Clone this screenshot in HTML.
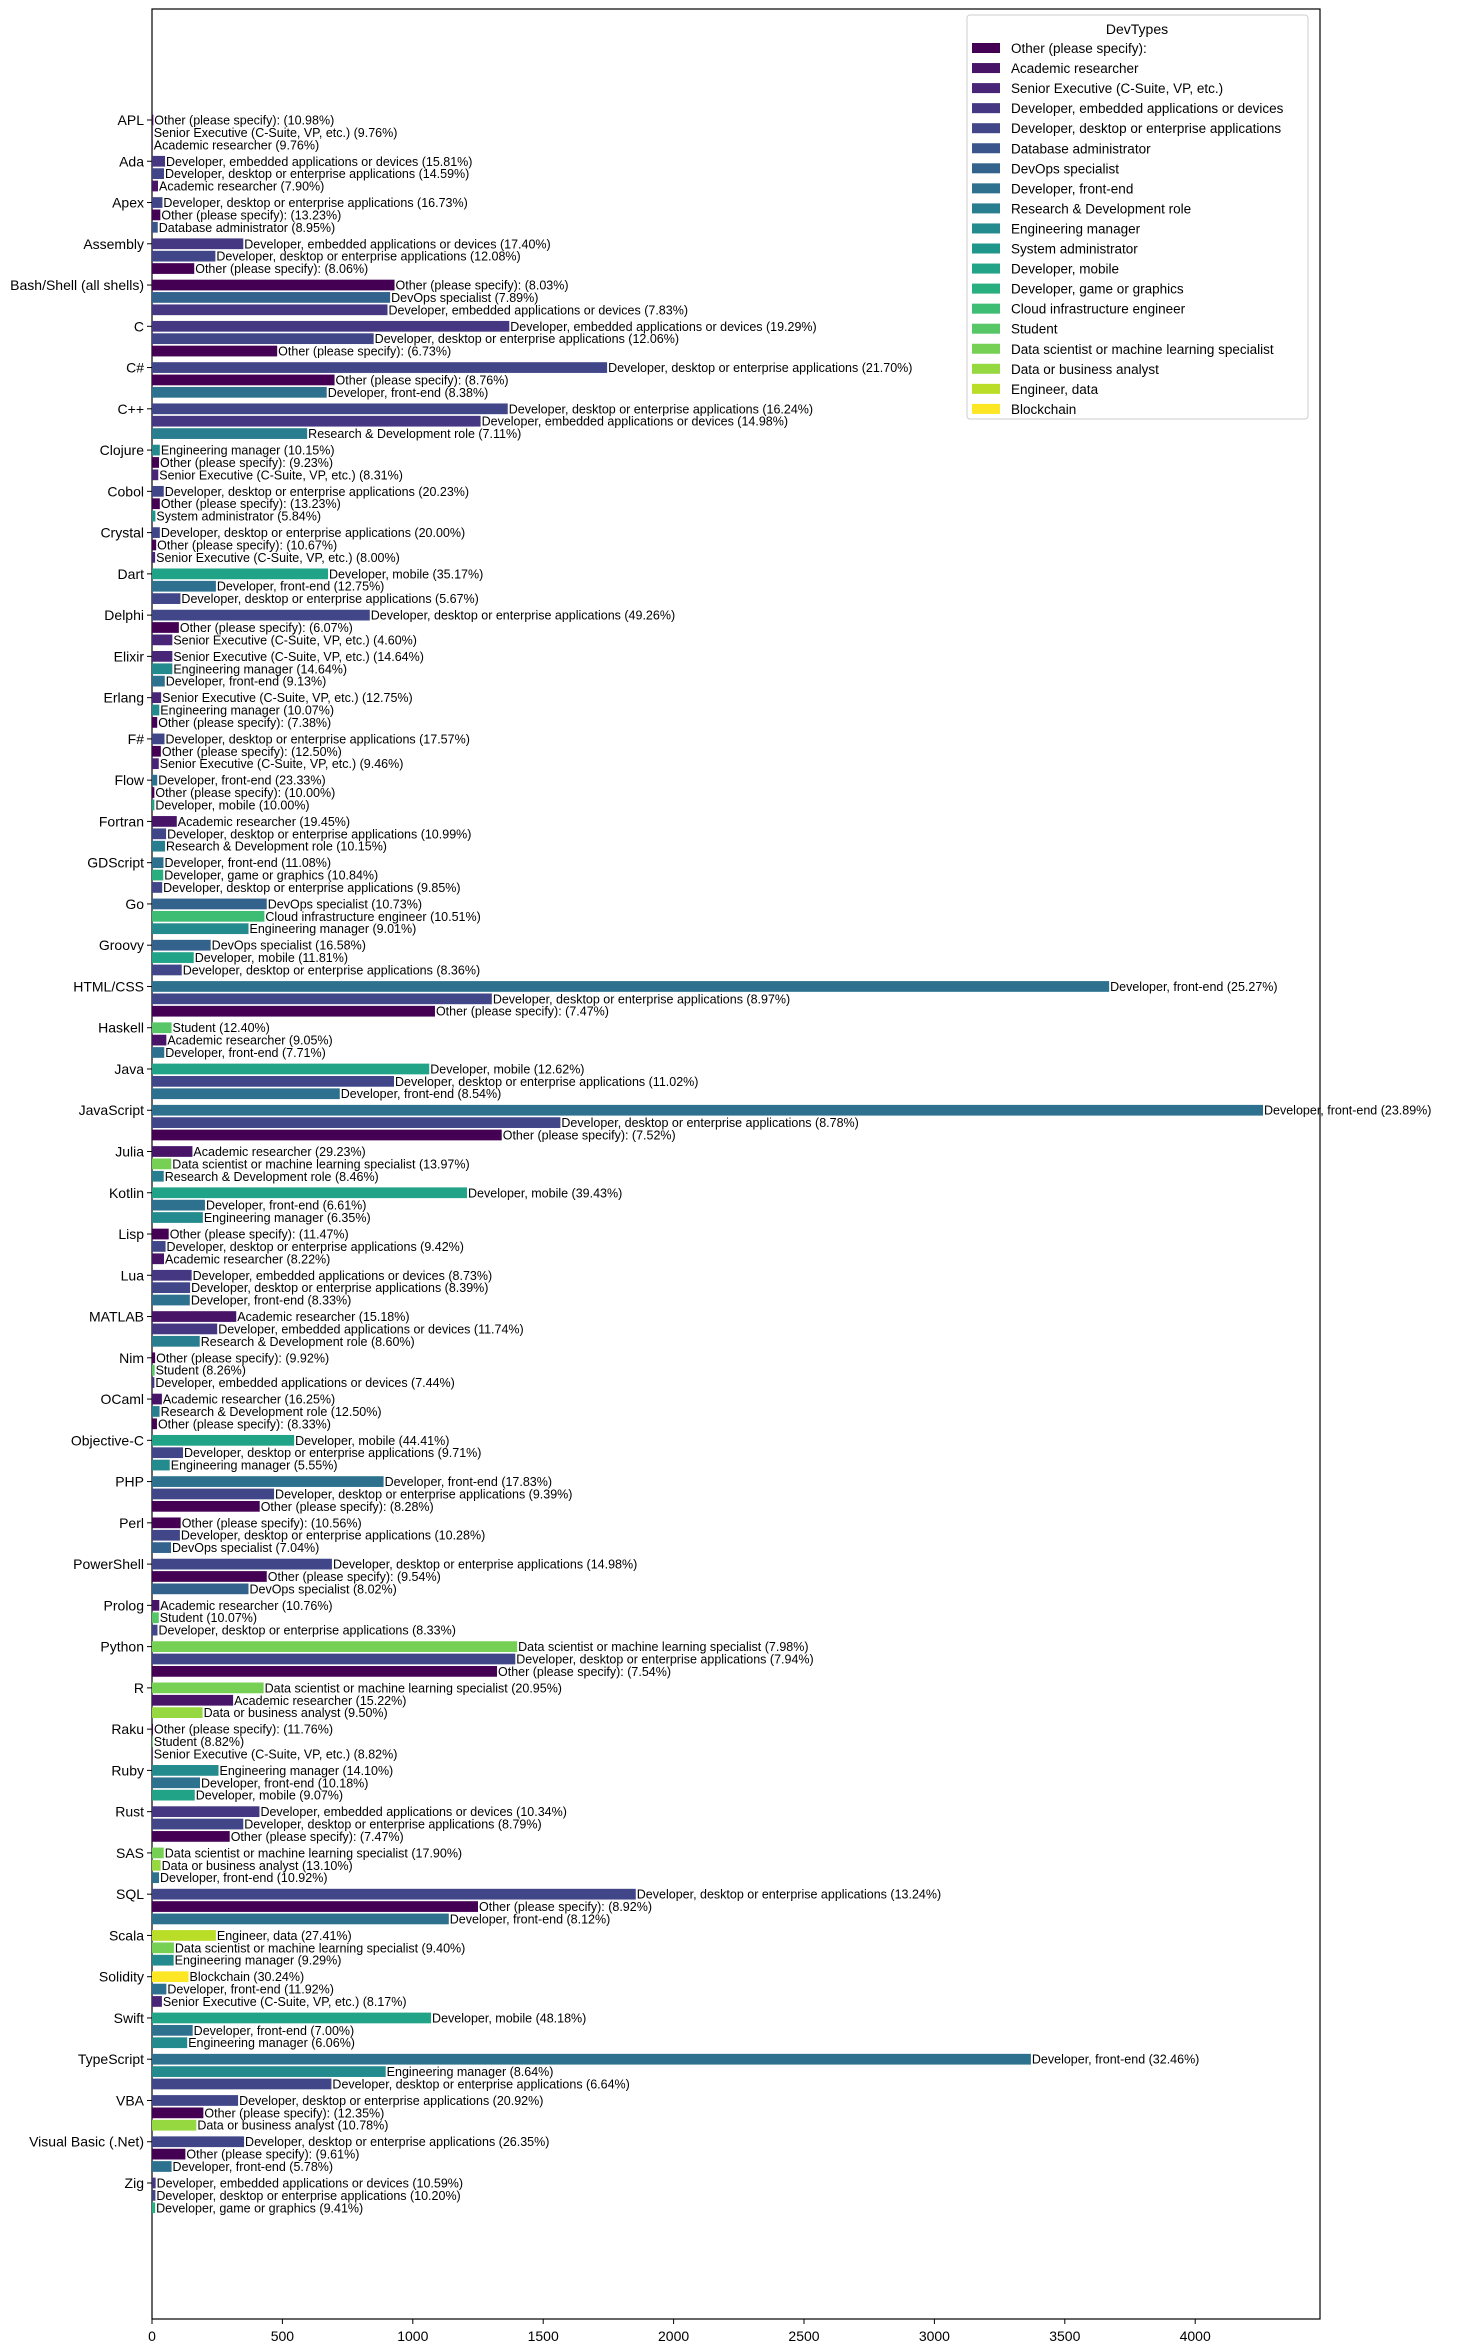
<!DOCTYPE html>
<html><head><meta charset="utf-8"><style>
html,body{margin:0;padding:0;background:#fff}
svg{display:block;font-family:"Liberation Sans","NanumGothic",sans-serif}
</style></head><body>
<svg id="chart" width="1470" height="2352" viewBox="0 0 1470 2352" xmlns="http://www.w3.org/2000/svg"></svg>
<script>
const devTypes=["Other (please specify):","Academic researcher","Senior Executive (C-Suite, VP, etc.)","Developer, embedded applications or devices","Developer, desktop or enterprise applications","Database administrator","DevOps specialist","Developer, front-end","Research & Development role","Engineering manager","System administrator","Developer, mobile","Developer, game or graphics","Cloud infrastructure engineer","Student","Data scientist or machine learning specialist","Data or business analyst","Engineer, data","Blockchain"];
const colors=["#440154","#481467","#482576","#453781","#404688","#39558c","#33638d","#2d718e","#287d8e","#238a8d","#1f968b","#20a386","#29af7f","#3dbc74","#56c667","#75d054","#95d840","#bade28","#fde725"];
const languages=["APL","Ada","Apex","Assembly","Bash/Shell (all shells)","C","C#","C++","Clojure","Cobol","Crystal","Dart","Delphi","Elixir","Erlang","F#","Flow","Fortran","GDScript","Go","Groovy","HTML/CSS","Haskell","Java","JavaScript","Julia","Kotlin","Lisp","Lua","MATLAB","Nim","OCaml","Objective-C","PHP","Perl","PowerShell","Prolog","Python","R","Raku","Ruby","Rust","SAS","SQL","Scala","Solidity","Swift","TypeScript","VBA","Visual Basic (.Net)","Zig"];
const typeIdx=[[0,2,1],[3,4,1],[4,0,5],[3,4,0],[0,6,3],[3,4,0],[4,0,7],[4,3,8],[9,0,2],[4,0,10],[4,0,2],[11,7,4],[4,0,2],[2,9,7],[2,9,0],[4,0,2],[7,0,11],[1,4,8],[7,12,4],[6,13,9],[6,11,4],[7,4,0],[14,1,7],[11,4,7],[7,4,0],[1,15,8],[11,7,9],[0,4,1],[3,4,7],[1,3,8],[0,14,3],[1,8,0],[11,4,9],[7,4,0],[0,4,6],[4,0,6],[1,14,4],[15,4,0],[15,1,16],[0,14,2],[9,7,11],[3,4,0],[15,16,7],[4,0,7],[17,15,9],[18,7,2],[11,7,9],[7,9,4],[4,0,16],[4,0,7],[3,4,12]];
const counts=[[5,3,3],[50,46,23],[40,32,22],[350,243,162],[930,913,903],[1370,850,480],[1745,700,670],[1364,1260,595],[30,27,24],[45,30,13],[30,16,12],[675,245,109],[835,103,78],[78,78,49],[35,28,20],[48,34,26],[20,9,9],[95,54,50],[44,43,39],[440,431,370],[225,160,114],[3670,1303,1085],[75,55,47],[1063,928,720],[4260,1566,1341],[155,74,45],[1208,203,195],[64,52,46],[152,146,145],[323,250,183],[12,10,9],[38,29,19],[545,119,68],[888,468,413],[110,107,73],[690,440,370],[28,26,21],[1400,1393,1323],[428,311,194],[4,3,3],[255,184,164],[412,350,298],[45,33,27],[1855,1250,1138],[245,84,83],[140,55,38],[1070,156,135],[3370,896,688],[330,197,170],[353,128,75],[14,13,12]];
const pcts=[["10.98","9.76","9.76"],["15.81","14.59","7.90"],["16.73","13.23","8.95"],["17.40","12.08","8.06"],["8.03","7.89","7.83"],["19.29","12.06","6.73"],["21.70","8.76","8.38"],["16.24","14.98","7.11"],["10.15","9.23","8.31"],["20.23","13.23","5.84"],["20.00","10.67","8.00"],["35.17","12.75","5.67"],["49.26","6.07","4.60"],["14.64","14.64","9.13"],["12.75","10.07","7.38"],["17.57","12.50","9.46"],["23.33","10.00","10.00"],["19.45","10.99","10.15"],["11.08","10.84","9.85"],["10.73","10.51","9.01"],["16.58","11.81","8.36"],["25.27","8.97","7.47"],["12.40","9.05","7.71"],["12.62","11.02","8.54"],["23.89","8.78","7.52"],["29.23","13.97","8.46"],["39.43","6.61","6.35"],["11.47","9.42","8.22"],["8.73","8.39","8.33"],["15.18","11.74","8.60"],["9.92","8.26","7.44"],["16.25","12.50","8.33"],["44.41","9.71","5.55"],["17.83","9.39","8.28"],["10.56","10.28","7.04"],["14.98","9.54","8.02"],["10.76","10.07","8.33"],["7.98","7.94","7.54"],["20.95","15.22","9.50"],["11.76","8.82","8.82"],["14.10","10.18","9.07"],["10.34","8.79","7.47"],["17.90","13.10","10.92"],["13.24","8.92","8.12"],["27.41","9.40","9.29"],["30.24","11.92","8.17"],["48.18","7.00","6.06"],["32.46","8.64","6.64"],["20.92","12.35","10.78"],["26.35","9.61","5.78"],["10.59","10.20","9.41"]];
const xTicks=[0,500,1000,1500,2000,2500,3000,3500,4000];

const NS="http://www.w3.org/2000/svg";
const svg=document.getElementById('chart');
const L=152,R=1320,T=9,B=2319;
const xs=v=>L+v*0.2608;
const y0=120,step=(2183-120)/50;
const ys=i=>y0+i*step;
function mk(tag,attrs,parent){const e=document.createElementNS(NS,tag);for(const k in attrs)e.setAttribute(k,attrs[k]);(parent||svg).appendChild(e);return e;}

const frame=mk('rect',{x:L,y:T,width:R-L,height:B-T,fill:'none',stroke:'#000','stroke-width':1.2});



languages.forEach((lang,i)=>{
  const g=mk('g',{});
  
  
  for(let j=0;j<3;j++){
    const cy=ys(i)+j*0.3*step;
    const h=0.26*step;
    const t=typeIdx[i][j];
    const r=mk('rect',{x:L,y:cy-h/2,width:Math.max(0,xs(counts[i][j])-L),height:h,fill:colors[t]},g);
    
    
    const tx=mk('text',{x:xs(counts[i][j])+1,y:cy+4.5,'font-size':12.5,fill:'#000'},g);
    tx.textContent=devTypes[t]+' ('+pcts[i][j]+'%)';
    
    
  }
  mk('line',{x1:L-5,x2:L,y1:ys(i),y2:ys(i),stroke:'#000'},g);
  const yl=mk('text',{x:L-8,y:ys(i)+5,'font-size':14,'text-anchor':'end',fill:'#000'},g);
  yl.textContent=lang;
  
  
});

xTicks.forEach(v=>{
  mk('line',{x1:xs(v),x2:xs(v),y1:B,y2:B+5,stroke:'#000'});
  const t=mk('text',{x:xs(v),y:B+22,'font-size':14,'text-anchor':'middle',fill:'#000'});
  t.textContent=v;
  
  
});

const lg=mk('g',{});


mk('rect',{x:967,y:15,width:341,height:404,rx:3,fill:'#fff',stroke:'#ccc'},lg);
const lt=mk('text',{x:1137,y:34,'font-size':14,'text-anchor':'middle',fill:'#000'},lg);
lt.textContent='DevTypes';


devTypes.forEach((d,k)=>{
  const yy=48+k*20.05;
  const e=mk('g',{},lg);
  
  
  mk('rect',{x:972,y:yy-5,width:28,height:10,fill:colors[k]},e);
  const t=mk('text',{x:1011,y:yy+5,'font-size':13.5,fill:'#000'},e);
  t.textContent=d;
});
</script>
</body></html>
